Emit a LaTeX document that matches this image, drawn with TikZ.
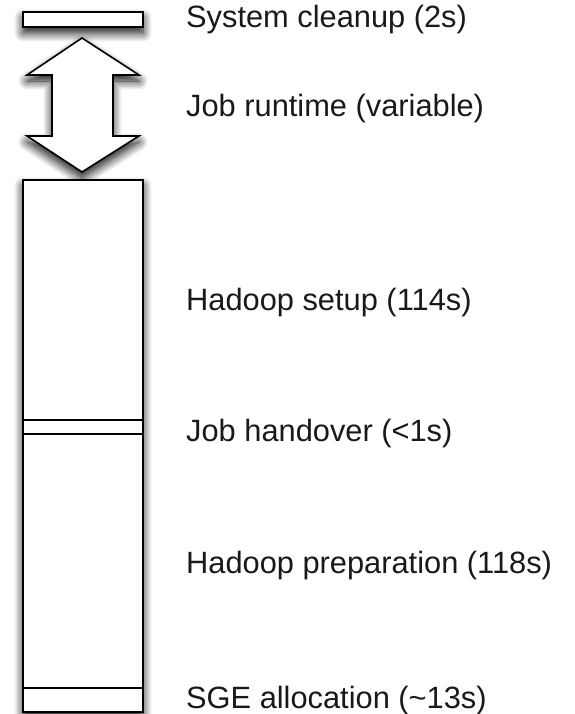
\documentclass[tikz,border=0pt]{standalone}
\usepackage{fontspec}
\setmainfont{Liberation Sans}
\usetikzlibrary{shadows.blur}
\begin{document}
\begin{tikzpicture}[x=1pt,y=-1pt,
  shade/.style={blur shadow={shadow xshift=0pt, shadow yshift=-6pt, shadow blur radius=9pt, shadow blur steps=12, shadow opacity=95}},
  seg/.style={draw=black, line width=1.6pt, fill=white, rectangle, inner sep=0pt, outer sep=0pt, anchor=north west, minimum width=120pt},
  lbl/.style={anchor=base west, inner sep=0pt, font=\fontsize{30.8}{36}\selectfont, text=black!90}]
\useasboundingbox (0,0) rectangle (574,714);
% top bar
\node[seg, shade, minimum height=15pt] (cleanup) at (23,12) {};
% double arrow
\filldraw[draw=black, line width=1.6pt, fill=white, line join=miter, shade]
  (82,38) -- (139,75) -- (113,75) -- (113,136) -- (139,136) -- (82,172)
  -- (27,136) -- (52,136) -- (52,75) -- (27,75) -- cycle;
\coordinate (runtime) at (82,105);
% column
\node[seg, shade, minimum height=532pt] (column) at (23,180) {};
\node[seg, minimum height=240pt] (setup) at (23,180) {};
\node[seg, minimum height=14pt] (handover) at (setup.south west) {};
\node[seg, minimum height=254pt] (prep) at (handover.south west) {};
\node[seg, minimum height=24pt] (sge) at (prep.south west) {};
% labels
\node[lbl] (t1) at (186,28) {System cleanup (2s)};
\node[lbl] (t2) at (186,117) {Job runtime (variable)};
\node[lbl] (t3) at (186,310) {Hadoop setup (114s)};
\node[lbl] (t4) at (186,441) {Job handover (<1s)};
\node[lbl] (t5) at (186,573) {Hadoop preparation (118s)};
\node[lbl] (t6) at (186,708) {SGE allocation (\textasciitilde13s)};
\end{tikzpicture}
\end{document}
